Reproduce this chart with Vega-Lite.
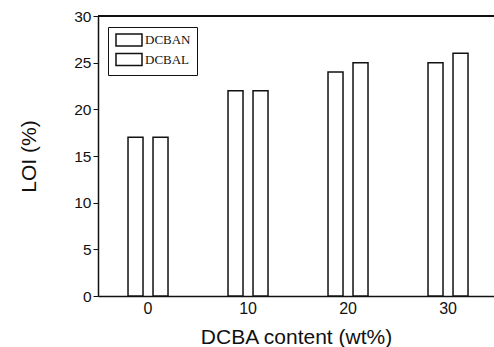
{
  "$schema": "https://vega.github.io/schema/vega-lite/v6.json",
  "autosize": {"type": "none"},
  "width": 396,
  "height": 280,
  "padding": {"left": 98, "top": 16, "right": 0, "bottom": 51},
  "background": "white",
  "config": {
    "view": {"stroke": null},
    "axis": {"labelFont": "Liberation Sans", "titleFont": "Liberation Sans", "labelColor": "#111", "titleColor": "#111", "titleFontWeight": "normal", "domainColor": "#111", "domainWidth": 1.5, "tickColor": "#111", "grid": false}
  },
  "data": {"values": [
    {"content": "0", "series": "DCBAN", "loi": 17},
    {"content": "0", "series": "DCBAL", "loi": 17},
    {"content": "10", "series": "DCBAN", "loi": 22},
    {"content": "10", "series": "DCBAL", "loi": 22},
    {"content": "20", "series": "DCBAN", "loi": 24},
    {"content": "20", "series": "DCBAL", "loi": 25},
    {"content": "30", "series": "DCBAN", "loi": 25},
    {"content": "30", "series": "DCBAL", "loi": 26}
  ]},
  "layer": [
    {
      "mark": {"type": "bar", "stroke": "#111", "strokeWidth": 1.5},
      "encoding": {
        "x": {
          "field": "content", "type": "ordinal", "sort": ["0", "10", "20", "30"],
          "scale": {"paddingInner": 0.6, "paddingOuter": 0.28, "align": 0.536},
          "axis": {"title": "DCBA content (wt%)", "labelAngle": 0, "ticks": false, "labelFontSize": 16, "labelPadding": 4, "titleFontSize": 21, "titlePadding": 10}
        },
        "xOffset": {"field": "series", "sort": ["DCBAN", "DCBAL"], "scale": {"paddingInner": 0.4, "paddingOuter": 0}},
        "y": {
          "field": "loi", "type": "quantitative", "scale": {"domain": [0, 30]},
          "axis": {"title": "LOI (%)", "values": [0, 5, 10, 15, 20, 25, 30], "tickSize": 5, "labelPadding": 2, "labelFontSize": 15.5, "titleFontSize": 21, "titlePadding": 34}
        },
        "fill": {
          "field": "series", "type": "nominal", "sort": ["DCBAN", "DCBAL"],
          "scale": {"range": ["white", "white"]},
          "legend": {
            "title": null, "orient": "none", "legendX": 10, "legendY": 11,
            "symbolType": "M-2.1667,-1H2.1667V1H-2.1667Z", "symbolSize": 144, "symbolOffset": 8,
            "symbolStrokeColor": "#111", "symbolStrokeWidth": 1.5,
            "labelFont": "Liberation Serif", "labelFontSize": 13, "labelColor": "#111", "labelOffset": 9,
            "strokeColor": "#111", "fillColor": "white", "padding": 6, "rowPadding": 1.5
          }
        }
      }
    },
    {
      "mark": {"type": "rule", "stroke": "#111", "strokeWidth": 1.5},
      "encoding": {"y": {"datum": 30}}
    }
  ]
}
